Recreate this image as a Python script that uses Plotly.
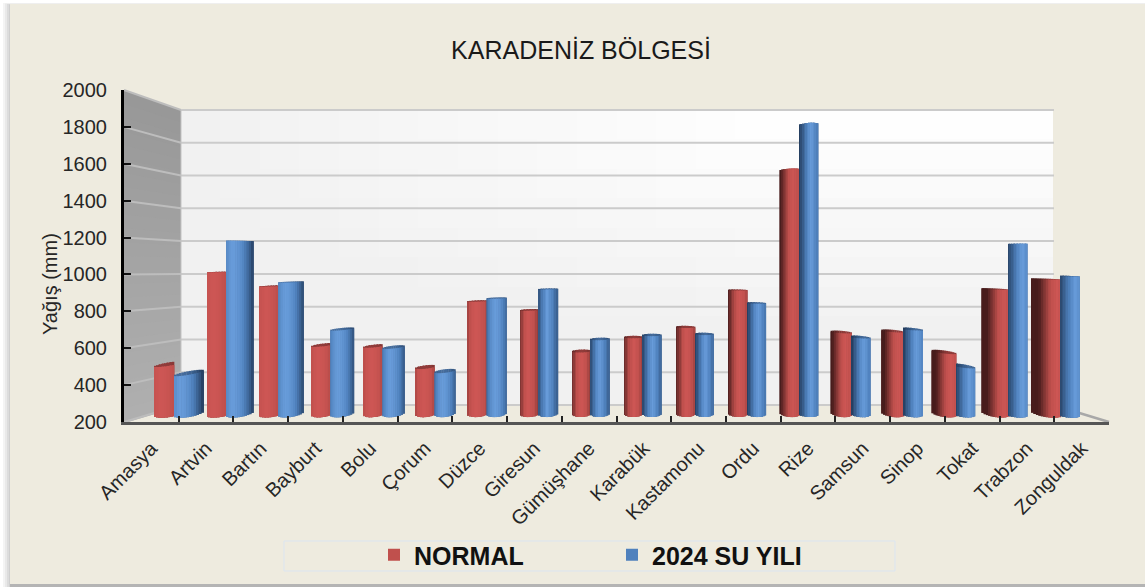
import plotly.graph_objects as go

# ---- data ----
cities = ["Amasya", "Artvin", "Bartın", "Bayburt", "Bolu", "Çorum", "Düzce", "Giresun", "Gümüşhane",
          "Karabük", "Kastamonu", "Ordu", "Rize", "Samsun", "Sinop", "Tokat", "Trabzon", "Zonguldak"]
normal = [497, 1023, 943, 606, 600, 480, 857, 806, 571, 651, 709, 920, 1606, 680, 686, 566, 926, 983]
su_yili = [446, 1200, 966, 697, 594, 457, 874, 926, 640, 663, 669, 846, 1863, 651, 697, 486, 1183, 1000]
y_ticks = [200, 400, 600, 800, 1000, 1200, 1400, 1600, 1800, 2000]
series_names = ["NORMAL", "2024 SU YILI"]

W, H = 1145, 587
AX_L, AX_R, AX_T, AX_B = 124, 1109, 90, 422      # front axes box
BK_L, BK_R, BK_T, BK_B = 181, 1053, 110, 405     # back wall
PX_PER_UNIT = 0.175                               # vertical scale at bar depth
BAR_STEP, BAR_X0, BAR_Y0 = 51.5, 179.5, 416
EYE_Y = 255                                       # height at which cylinder tops look flat


def px(x):
    return x / W


def py(y):
    return 1 - y / H


def mix(c1, c2, a):
    return tuple(c1[k] + (c2[k] - c1[k]) * a for k in range(3))


def css(c):
    return "rgb(%d,%d,%d)" % tuple(round(v) for v in c)


shapes = []


def rect(x0, y0, x1, y1, color, **kw):
    shapes.append(dict(type="rect", xref="paper", yref="paper", x0=px(x0), x1=px(x1), y0=py(y1), y1=py(y0),
                       fillcolor=color, line=kw.get("line", dict(width=0)), layer="below"))


def seg(x0, y0, x1, y1, color, width, layer="below"):
    shapes.append(dict(type="line", xref="paper", yref="paper", x0=px(x0), x1=px(x1), y0=py(y0), y1=py(y1),
                       line=dict(color=color, width=width), layer=layer))


# frame + soft shadow
for k, col in enumerate(["#f4f4f4", "#e9e9e9", "#dcdcdc", "#cfcfcf"]):
    rect(3 + k * 2, 3 + k * 0.5, W, 587, col)
BG = "#eeebdf"
rect(10, 4, W, 584, BG)
rect(10, 584, W, 587, "#b4b4b4")

# back wall gradient
nx, ny = 22, 10
for i in range(nx):
    for j in range(ny):
        x0 = BK_L + (BK_R - BK_L) * i // nx
        x1 = BK_L + (BK_R - BK_L) * (i + 1) // nx
        y0 = BK_T + (BK_B - BK_T) * j // ny
        y1 = BK_T + (BK_B - BK_T) * (j + 1) // ny
        d = ((max(0, 800 - (x0 + x1) / 2) / 620) ** 2 + (((y0 + y1) / 2 - BK_T) / 220) ** 2) ** 0.5
        v = 255 - 14 * min(1, d)
        rect(x0, y0, x1, y1, css((v, v, v)))

# left wall gradient
steps = 24
for k in range(steps):
    a0, a1 = k / steps, (k + 1) / steps + 0.004
    yf0, yf1 = AX_T + (AX_B - AX_T) * a0, AX_T + (AX_B - AX_T) * a1
    yb0, yb1 = BK_T + (BK_B - BK_T) * a0, BK_T + (BK_B - BK_T) * a1
    col = css(mix((152, 152, 152), (176, 176, 176), a0))
    shapes.append(dict(type="path", xref="paper", yref="paper", layer="below", fillcolor=col, line=dict(width=0),
                       path="M %f %f L %f %f L %f %f L %f %f Z" % (px(AX_L), py(yf0), px(BK_L), py(yb0),
                                                                   px(BK_L), py(yb1), px(AX_L), py(yf1))))

# gridlines on the walls
for k in range(len(y_ticks)):
    yf = AX_B - (AX_B - AX_T) * k / (len(y_ticks) - 1)
    yb = BK_B - (BK_B - BK_T) * k / (len(y_ticks) - 1)
    seg(AX_L, yf, BK_L, yb, "#bdbdbd", 2)
    seg(BK_L, yb, BK_R + 1, yb, "#cbcbcb", 2)
seg(BK_L, BK_T, BK_L, BK_B, "#c4c4c4", 1)
seg(BK_R, BK_B, AX_R, AX_B, "#a8a8a8", 2.5)

# legend frame
rect(284, 541, 895, 571, "rgba(0,0,0,0)", line=dict(color="#dbe5f1", width=1))

# ---- cylinders as narrow shaded strips, all heights from the data ----
RED = dict(dark=(72, 28, 28), base=(192, 80, 77), light=(205, 86, 84))
BLUE = dict(dark=(30, 52, 82), base=(79, 129, 189), light=(104, 156, 218))
N = 12
FACE = 18.5
n_cat = len(cities)


def tpos(i):
    return (i - 9.3) / 7.7 if i >= 9.3 else (i - 9.3) / 9.3


def strip_colour(pal, f, t):
    hp = 0.55 + 0.33 * t
    d = min(1.0, abs(f - hp) / (0.8 if f > hp else 0.62))
    if t < -0.3:
        d = d ** 1.6
    if d < 0.35:
        return mix(pal["light"], pal["base"], d / 0.35)
    return mix(pal["base"], pal["dark"], (d - 0.35) / 0.65)


traces = []
for s, (vals, pal) in enumerate([(normal, RED), (su_yili, BLUE)]):
    for pass_no in (0, 1):     # 0 = top cap behind, 1 = cylinder body
        for k in range(N):
            xs, heights, bases, widths, offsets, colours = [], [], [], [], [], []
            for i, v in enumerate(vals):
                t = tpos(i)
                extra = 11 * t * t
                full = FACE + extra
                shift = 5.5 * t
                red_w = FACE + (extra if t > 0 else 0.05 * extra)
                blue_w = FACE + (extra if t < 0 else 0.05 * extra)
                if s == 0:
                    left, width = shift - red_w, red_w
                    f0, f1 = (0, red_w / full) if t < 0 else (0, 1)
                else:
                    left, width = shift, blue_w
                    f0, f1 = (0, 1) if t < 0 else (1 - blue_w / full, 1)
                u0 = (k + 0.5) / N
                f = f0 + (f1 - f0) * u0
                u = 2 * f - 1
                arc = max(0, 1 - u * u) ** 0.5
                top_y = BAR_Y0 - (v - 200) * PX_PER_UNIT
                depth = (top_y - EYE_Y) / 110
                e = 1.7 * abs(depth)
                slant_top = 5 * depth * t * (f - 0.5)
                if depth > 0:
                    top_px = slant_top + (e * arc if pass_no == 1 else -e * arc)
                else:
                    top_px = slant_top - e * arc
                bot_px = -2.5 + 3.5 * arc + 5 * t * (f - 0.5)
                c = strip_colour(pal, f, t)
                if pass_no == 0:
                    c = mix(c, pal["dark"], 0.45)
                xs.append(i)
                heights.append(v - top_px / PX_PER_UNIT - (200 - bot_px / PX_PER_UNIT))
                bases.append(200 - bot_px / PX_PER_UNIT)
                widths.append((width / N + 0.35) / BAR_STEP)
                offsets.append((left + width * k / N) / BAR_STEP)
                colours.append(css(c))
            traces.append(go.Bar(x=xs, y=heights, base=bases, width=widths, offset=offsets,
                                 marker=dict(color=colours, line=dict(width=0)), xaxis="x2", yaxis="y2",
                                 showlegend=False, hoverinfo="skip"))

fig = go.Figure(traces)

# invisible trace that carries the category axis
fig.add_trace(go.Scatter(x=cities, y=normal, mode="none", showlegend=False, hoverinfo="skip", xaxis="x", yaxis="y"))

# legend entries
for name, col in zip(series_names, ["#c0504d", "#4f81bd"]):
    fig.add_trace(go.Scatter(x=[None], y=[None], mode="markers", name=name, xaxis="x", yaxis="y",
                             marker=dict(symbol="square", size=12, color=col)))

dom_x = [px(AX_L), px(AX_R)]
dom_y = [py(AX_B), py(AX_T)]
FONT = "Liberation Sans"
fig.update_layout(
    width=W, height=H, autosize=False,
    margin=dict(l=0, r=0, t=0, b=0),
    paper_bgcolor="white", plot_bgcolor="rgba(0,0,0,0)",
    barmode="overlay",
    font=dict(family=FONT, color="#262626"),
    shapes=shapes,
    title=dict(text="KARADENİZ BÖLGESİ", x=581 / W, y=py(50), xanchor="center", yanchor="middle",
               font=dict(size=25, family=FONT, color="#1a1a1a")),
    xaxis=dict(domain=dom_x, type="category", categoryorder="array", categoryarray=cities,
               range=[-0.5, n_cat - 0.5], tickson="boundaries", ticks="inside", ticklen=6, tickwidth=1.5,
               tickcolor="#222222", showline=True, linecolor="#555555", linewidth=2.5, showgrid=False, zeroline=False,
               tickangle=-45, tickfont=dict(size=20, family=FONT, color="#262626"), ticklabelstandoff=4,
               automargin=False),
    yaxis=dict(domain=dom_y, range=[200, 2000], tickmode="array", tickvals=y_ticks, ticks="inside", ticklen=7,
               tickwidth=1.5, tickcolor="#111111", showline=True, linecolor="#000000", linewidth=3, showgrid=False,
               zeroline=False, tickfont=dict(size=20, family=FONT, color="#262626"), ticklabelstandoff=10,
               automargin=False),
    xaxis2=dict(domain=dom_x, overlaying="x", anchor="y2", visible=False,
                range=[(AX_L - BAR_X0) / BAR_STEP, (AX_R - BAR_X0) / BAR_STEP]),
    yaxis2=dict(domain=dom_y, overlaying="y", anchor="x2", visible=False,
                range=[200 - (AX_B - BAR_Y0) / PX_PER_UNIT, 200 + (BAR_Y0 - AX_T) / PX_PER_UNIT]),
    legend=dict(orientation="h", x=px(374), y=py(555), xanchor="left", yanchor="middle",
                bgcolor="rgba(0,0,0,0)", borderwidth=0, entrywidth=193, entrywidthmode="pixels",
                font=dict(size=25, family=FONT, color="#111111", weight="bold"), itemsizing="trace"),
    annotations=[dict(text="Yağış (mm)", xref="paper", yref="paper", x=px(50), y=py(284), showarrow=False,
                      xanchor="center", yanchor="middle", textangle=-90,
                      font=dict(size=20, family=FONT, color="#262626"))],
)

fig.write_html("out.html", config=dict(displayModeBar=False),
               post_script="document.body.style.margin='0';document.documentElement.style.overflow='hidden';")
